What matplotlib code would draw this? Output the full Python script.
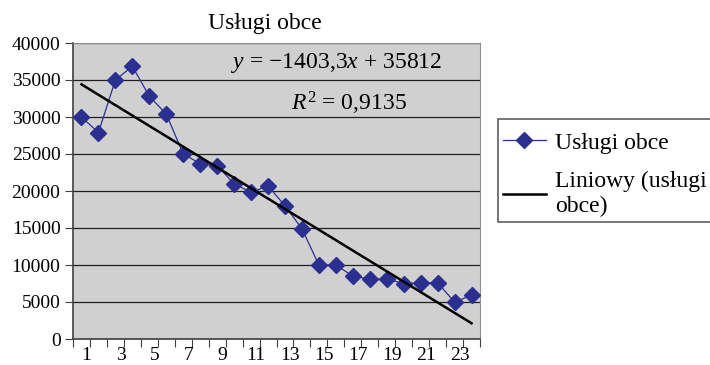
import numpy as np
import matplotlib.pyplot as plt
from matplotlib.patches import Rectangle

plt.rcParams['font.family'] = ['Liberation Serif', 'DejaVu Serif']
plt.rcParams['mathtext.fontset'] = 'custom'
plt.rcParams['mathtext.rm'] = 'Liberation Serif'
plt.rcParams['mathtext.it'] = 'Liberation Serif:italic'

okresy = list(range(1, 25))
uslugi_obce = [30000, 27900, 35000, 36850, 32800, 30400, 25000, 23700,
               23400, 21000, 19800, 20700, 18000, 14900, 10000, 10000,
               8500, 8100, 8100, 7500, 7600, 7600, 5000, 5900]
nachylenie = -1403.3
wyraz_wolny = 35812
r2 = 0.9135

x = np.array(okresy)
trend = nachylenie * x + wyraz_wolny

fig = plt.figure(figsize=(7.1, 3.65), dpi=100)
ax = fig.add_axes([73/710, 1 - 339/365, 407/710, 296/365])
ax.set_facecolor('#d0d0d0')

ax.plot(okresy, uslugi_obce, color='#2b2f8f', lw=0.9, marker='D', ms=8.5,
        mec='#2b2f8f', mfc='#2b2f8f', label='Usługi obce', zorder=3)
ax.plot(okresy, trend, color='black', lw=1.8, label='Liniowy (usługi\nobce)', zorder=4)

ax.set_xlim(0.5, 24.5)
ax.set_ylim(0, 40000)
ax.set_yticks(range(0, 40001, 5000))
ax.set_xticks(np.arange(0.5, 25, 1))
ax.set_xticklabels([])
ax.set_xticks([v + 0.3 for v in okresy[::2]], minor=True)
ax.set_xticklabels([str(v) for v in okresy[::2]], minor=True)
ax.tick_params(axis='x', which='minor', length=0, pad=6, labelsize=14)
ax.tick_params(axis='x', which='major', length=6, direction='out', color='#404040')
ax.tick_params(axis='y', length=6, direction='out', color='#404040', labelsize=14, pad=3)
ax.grid(axis='y', color='#202020', lw=0.9)
ax.set_axisbelow(True)

for s in ['top', 'right']:
    ax.spines[s].set_color('#909090')
for s in ['left', 'bottom']:
    ax.spines[s].set_color('#404040')
    ax.spines[s].set_linewidth(1.2)

fig.text(265/710, 1 - 23/365, 'Usługi obce', ha='center', va='center', fontsize=17)
ax.text(337/710, 1 - 63/365, r'$y$ = −1403,3$x$ + 35812', transform=fig.transFigure,
        ha='center', va='center', fontsize=17)
ax.text(349/710, 1 - 103/365, r'$R^2$ = ' + f'{r2:.4f}'.replace('.', ','),
        transform=fig.transFigure, ha='center', va='center', fontsize=17)

# ramka legendy rysowana osobno (w oryginale wychodzi poza prawą krawędź)
fig.patches.append(Rectangle((498/710, 1 - 222/365), 230/710, 103/365,
                             transform=fig.transFigure, facecolor='white',
                             edgecolor='#606060', lw=1.2, zorder=0))
leg = fig.legend(loc='upper left', bbox_to_anchor=(503/710, 1 - 132/365), fontsize=17,
                 frameon=False, handlelength=1.8, borderpad=0, borderaxespad=0,
                 labelspacing=0.75, handletextpad=0.4)

fig.savefig('out.png', dpi=100)
